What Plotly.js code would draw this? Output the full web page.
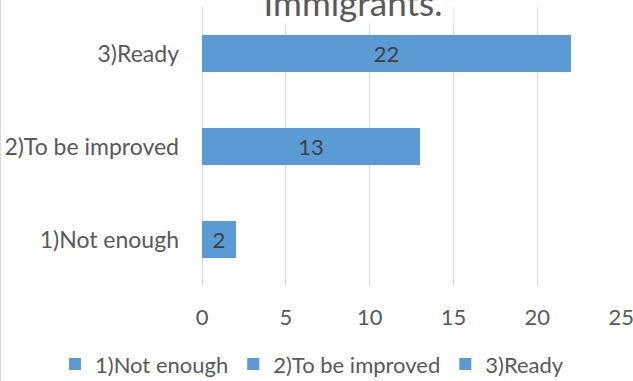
<!DOCTYPE html>
<html>
<head>
<meta charset="utf-8">
<script src="https://cdn.plot.ly/plotly-3.0.1.min.js"></script>
<style>
  html, body { margin: 0; padding: 0; background: #fff; }
  #wrap { border-left: 1px solid #d9d9d9; width: 632px; height: 381px; }
  #chart { width: 632px; height: 381px; }
</style>
</head>
<body>
<div id="wrap"><div id="chart"></div></div>
<script>
const categories = ['1)Not enough', '2)To be improved', '3)Ready'];
const values = [2, 13, 22];
const titleText = 'Immigrants.';
const xTicks = [0, 5, 10, 15, 20, 25];

const FONT = 'Lato, "Open Sans", sans-serif';
const barColor = '#5B9BD5';

const traces = categories.map((c, i) => ({
  type: 'bar',
  orientation: 'h',
  name: c,
  y: [c],
  x: [values[i]],
  text: [String(values[i])],
  textposition: 'inside',
  insidetextanchor: 'middle',
  textfont: { family: FONT, size: 22, color: '#404040' },
  marker: { color: barColor },
  hoverinfo: 'x+y'
}));

const layout = {
  width: 632,
  height: 381,
  margin: { l: 201, r: 11, t: 7, b: 95, autoexpand: false },
  paper_bgcolor: '#fff',
  plot_bgcolor: '#fff',
  font: { family: FONT, size: 22, color: '#595959' },
  barmode: 'stack',
  bargap: 0.6,
  showlegend: true,
  legend: {
    orientation: 'h',
    xref: 'paper', x: -0.35, xanchor: 'left',
    yref: 'paper', y: -0.205, yanchor: 'top',
    font: { family: FONT, size: 22, color: '#595959' },
    traceorder: 'normal',
    itemclick: false
  },
  xaxis: {
    range: [0, 25.05],
    tickvals: xTicks,
    ticktext: xTicks.map(String),
    showgrid: true,
    gridcolor: '#d9d9d9',
    gridwidth: 1,
    zeroline: true,
    zerolinecolor: '#d9d9d9',
    zerolinewidth: 1,
    showline: false,
    ticks: '',
    ticklabelstandoff: 16,
    ticklabeloverflow: 'allow',
    tickfont: { family: FONT, size: 22, color: '#595959' },
    automargin: false,
    fixedrange: true
  },
  yaxis: {
    type: 'category',
    categoryorder: 'array',
    categoryarray: categories,
    showgrid: false,
    zeroline: false,
    showline: false,
    ticks: '',
    ticklabelstandoff: 22,
    tickfont: { family: FONT, size: 23, color: '#595959' },
    automargin: false,
    fixedrange: true
  },
  annotations: [{
    text: titleText,
    xref: 'paper', yref: 'paper',
    x: 0.36, y: 0.94,
    xanchor: 'center', yanchor: 'bottom',
    showarrow: false,
    bgcolor: '#fff',
    borderpad: 0,
    width: 200,
    font: { family: FONT, size: 35, color: '#595959' }
  }]
};

Plotly.newPlot('chart', traces, layout, { displayModeBar: false, staticPlot: true });
</script>
</body>
</html>
